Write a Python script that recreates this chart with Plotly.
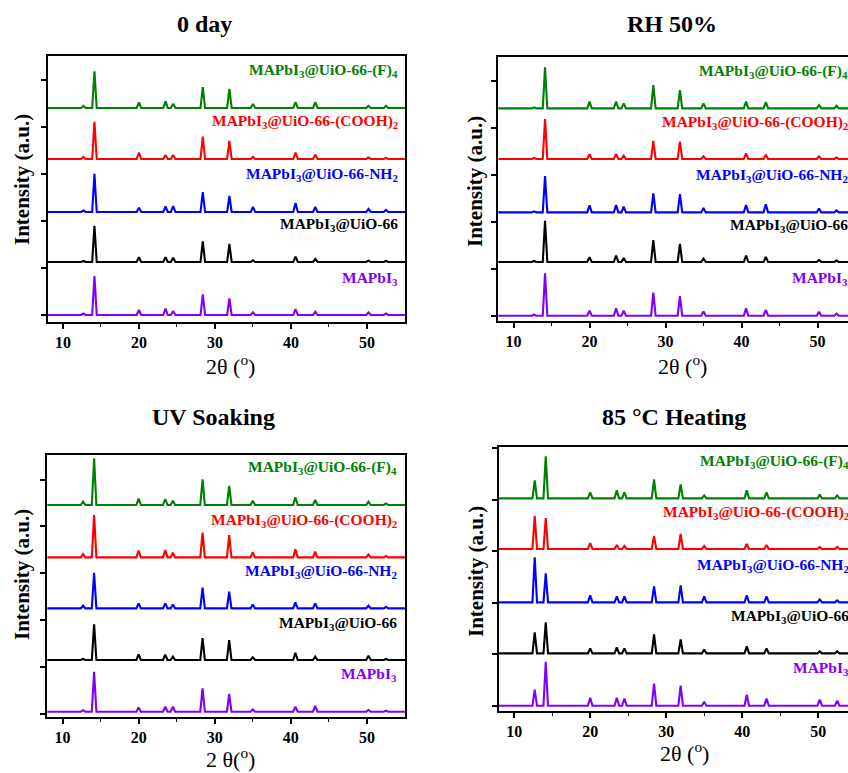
import plotly.graph_objects as go

# ---------------- data ----------------
PEAKS_2THETA = [12.7, 14.15, 20.0, 23.5, 24.5, 28.4, 31.9, 35.0, 40.6, 43.2, 50.2, 52.5]

SAMPLES = [
    "MAPbI<sub>3</sub>",
    "MAPbI<sub>3</sub>@UiO-66",
    "MAPbI<sub>3</sub>@UiO-66-NH<sub>2</sub>",
    "MAPbI<sub>3</sub>@UiO-66-(COOH)<sub>2</sub>",
    "MAPbI<sub>3</sub>@UiO-66-(F)<sub>4</sub>",
]

PANEL_TITLES = ["0 day", "RH 50%", "UV Soaking", "85 °C Heating"]
X_TITLES = ["2θ (<sup>o</sup>)", "2θ (<sup>o</sup>)", "2 θ(<sup>o</sup>)", "2θ (<sup>o</sup>)"]
Y_TITLE = "Intensity (a.u.)"
X_TICKS = [10, 20, 30, 40, 50]

# stacking offsets (a.u.) of the five patterns in each panel
OFFSETS_0DAY = [0, 53, 103, 156, 207]
OFFSETS_RH50 = [0, 53.7, 103.3, 156.7, 207.3]
OFFSETS_UV = [0, 51.7, 103.3, 154.3, 206.7]
OFFSETS_85C = [0, 52.3, 103.3, 156.7, 207.3]

# peak intensities (a.u.) at PEAKS_2THETA, one row per sample (order of SAMPLES)
HEIGHTS_0DAY = [
    [1.5, 39.0, 5.0, 6.3, 4.0, 20.7, 16.7, 2.7, 6.0, 3.3, 2.7, 1.5],
    [1.0, 36.3, 4.7, 4.7, 4.3, 20.7, 18.0, 1.7, 5.3, 3.0, 1.3, 1.0],
    [1.5, 38.3, 4.3, 5.7, 6.0, 20.0, 16.0, 5.0, 9.0, 5.0, 3.0, 2.0],
    [2.0, 37.3, 6.3, 4.0, 4.0, 22.3, 18.0, 2.0, 6.3, 4.3, 1.5, 1.0],
    [2.0, 36.7, 5.7, 6.7, 4.3, 21.0, 19.0, 4.0, 6.0, 6.0, 2.0, 2.0],
]
HEIGHTS_RH50 = [
    [1.0, 42.3, 5.0, 7.3, 5.0, 23.0, 19.7, 4.3, 7.3, 5.7, 4.0, 2.0],
    [1.0, 41.3, 4.7, 6.3, 4.0, 22.0, 18.0, 3.3, 6.3, 5.0, 2.0, 1.5],
    [1.0, 36.3, 7.0, 7.3, 5.7, 19.0, 18.3, 4.3, 7.3, 8.0, 4.0, 2.0],
    [1.0, 40.0, 4.7, 5.0, 3.3, 18.0, 17.3, 2.7, 5.7, 4.3, 2.7, 1.5],
    [1.0, 41.0, 6.7, 6.7, 5.0, 23.3, 18.3, 5.0, 6.7, 6.3, 3.3, 2.7],
]
HEIGHTS_UV = [
    [1.5, 40.0, 4.3, 5.0, 5.0, 23.3, 17.7, 2.3, 5.0, 5.7, 1.7, 1.0],
    [1.0, 35.7, 5.7, 5.3, 3.3, 22.0, 20.0, 2.7, 7.3, 3.3, 4.3, 1.0],
    [2.7, 35.7, 5.0, 5.0, 4.0, 20.7, 16.7, 4.0, 6.0, 5.0, 2.7, 1.5],
    [3.3, 42.3, 6.7, 7.3, 4.7, 24.7, 22.3, 5.0, 8.0, 5.7, 3.0, 1.5],
    [3.3, 46.7, 6.3, 6.0, 4.3, 25.7, 19.0, 4.3, 7.7, 5.0, 3.3, 1.5],
]
HEIGHTS_85C = [
    [16, 44, 8, 8, 7, 22, 20, 4, 11, 7, 6, 5],
    [21, 31, 5, 6, 5, 19, 14, 4, 7, 5, 2, 2],
    [45, 29, 7, 6, 6, 16, 17, 6, 7, 6, 3, 2],
    [33, 31, 6, 4, 3, 13, 15, 3, 5, 4, 2, 2],
    [18, 42, 6, 8, 6, 19, 14, 3, 8, 6, 4, 3],
]

# ---------------- style / layout ----------------
W, H = 848, 773
COLORS = ["#8000ff", "#000000", "#0000ff", "#ff0000", "#008000"]
FONT = "Liberation Serif, Times New Roman, serif"
HALF_W = 0.3

panels = [
    dict(off=OFFSETS_0DAY, hts=HEIGHTS_0DAY, left=47.7, right=405.0, top=56.0, bottom=321.7,
         xr=[8, 55], yr=[-6.7, 259], tick0=0, dtick=47, mirror_y=True,
         title_xy=(204, 24), xt_xy=(230, 365), yt_xy=(22, 180)),
    dict(off=OFFSETS_RH50, hts=HEIGHTS_RH50, left=498.3, right=848.0, top=56.7, bottom=320.7,
         xr=[8, 8 + (848 - 498.3) / 7.6], yr=[-5, 259], tick0=0, dtick=47, mirror_y=False,
         title_xy=(672, 24), xt_xy=(682, 365), yt_xy=(475, 182)),
    dict(off=OFFSETS_UV, hts=HEIGHTS_UV, left=47.3, right=405.0, top=455.0, bottom=717.0,
         xr=[8, 55], yr=[-5.3, 256.7], tick0=-2.3, dtick=46.9, mirror_y=True,
         title_xy=(213, 417), xt_xy=(231, 758), yt_xy=(22, 575)),
    dict(off=OFFSETS_85C, hts=HEIGHTS_85C, left=499.0, right=848.0, top=447.3, bottom=710.7,
         xr=[8, 8 + (848 - 499.0) / 7.6], yr=[-5, 258.4], tick0=0, dtick=51.5, mirror_y=False,
         title_xy=(674, 417), xt_xy=(684, 752), yt_xy=(476, 572)),
]

fig = go.Figure()
annotations = []
layout = {}

for i, p in enumerate(panels, start=1):
    xa = "x" if i == 1 else f"x{i}"
    ya = "y" if i == 1 else f"y{i}"
    for s, (name, col) in enumerate(zip(SAMPLES, COLORS)):
        off = p["off"][s]
        xs, ys = [0.0], [off]
        for pos, h in zip(PEAKS_2THETA, p["hts"][s]):
            xs += [pos - HALF_W, pos, pos + HALF_W]
            ys += [off, off + h, off]
        xs.append(60.0)
        ys.append(off)
        fig.add_trace(go.Scatter(x=xs, y=ys, mode="lines", xaxis=xa, yaxis=ya,
                                 line=dict(color=col, width=2.1), showlegend=False,
                                 name=name))
        annotations.append(dict(
            text=f"<b>{name}</b>", xref="paper", yref=ya,
            x=(p["left"] + 352) / W, y=off + 37, xanchor="right", yanchor="middle",
            showarrow=False, font=dict(family=FONT, size=15.5, color=col)))

    key_x = "xaxis" if i == 1 else f"xaxis{i}"
    key_y = "yaxis" if i == 1 else f"yaxis{i}"
    layout[key_x] = dict(
        domain=[p["left"] / W, min(1.0, p["right"] / W)], range=p["xr"], anchor=ya,
        showline=True, linecolor="black", linewidth=1.8, mirror=True,
        ticks="outside", ticklen=5, tickwidth=1.5, tickcolor="black",
        tickmode="array", tickvals=X_TICKS, ticktext=[str(t) for t in X_TICKS],
        minor=dict(ticks="outside", ticklen=3, tickwidth=1.3, tickcolor="black",
                   tickmode="array", tickvals=[15, 25, 35, 45]),
        tickfont=dict(family=FONT, size=16, color="black", weight="bold"),
        showgrid=False, zeroline=False, fixedrange=True,
    )
    layout[key_y] = dict(
        domain=[1 - p["bottom"] / H, 1 - p["top"] / H], range=p["yr"], anchor=xa,
        showline=True, linecolor="black", linewidth=1.8, mirror=p["mirror_y"],
        ticks="outside", ticklen=5, tickwidth=1.5, tickcolor="black",
        tickmode="linear", tick0=p["tick0"], dtick=p["dtick"], showticklabels=False,
        showgrid=False, zeroline=False, fixedrange=True,
    )
    tx, ty = p["title_xy"]
    annotations.append(dict(text=f"<b>{PANEL_TITLES[i-1]}</b>", xref="paper", yref="paper",
                            x=tx / W, y=1 - ty / H, xanchor="center", yanchor="middle",
                            showarrow=False, font=dict(family=FONT, size=24, color="black")))
    xx, xy = p["xt_xy"]
    annotations.append(dict(text=X_TITLES[i-1], xref="paper", yref="paper",
                            x=xx / W, y=1 - xy / H, xanchor="center", yanchor="middle",
                            showarrow=False, font=dict(family=FONT, size=22, color="black")))
    yx, yy = p["yt_xy"]
    annotations.append(dict(text=f"<b>{Y_TITLE}</b>", xref="paper", yref="paper",
                            x=yx / W, y=1 - yy / H, xanchor="center", yanchor="middle",
                            textangle=-90, showarrow=False,
                            font=dict(family=FONT, size=21, color="black")))

fig.update_layout(
    width=W, height=H, margin=dict(l=0, r=0, t=0, b=0),
    paper_bgcolor="white", plot_bgcolor="white",
    annotations=annotations, **layout,
)

fig.write_html("out.html")
